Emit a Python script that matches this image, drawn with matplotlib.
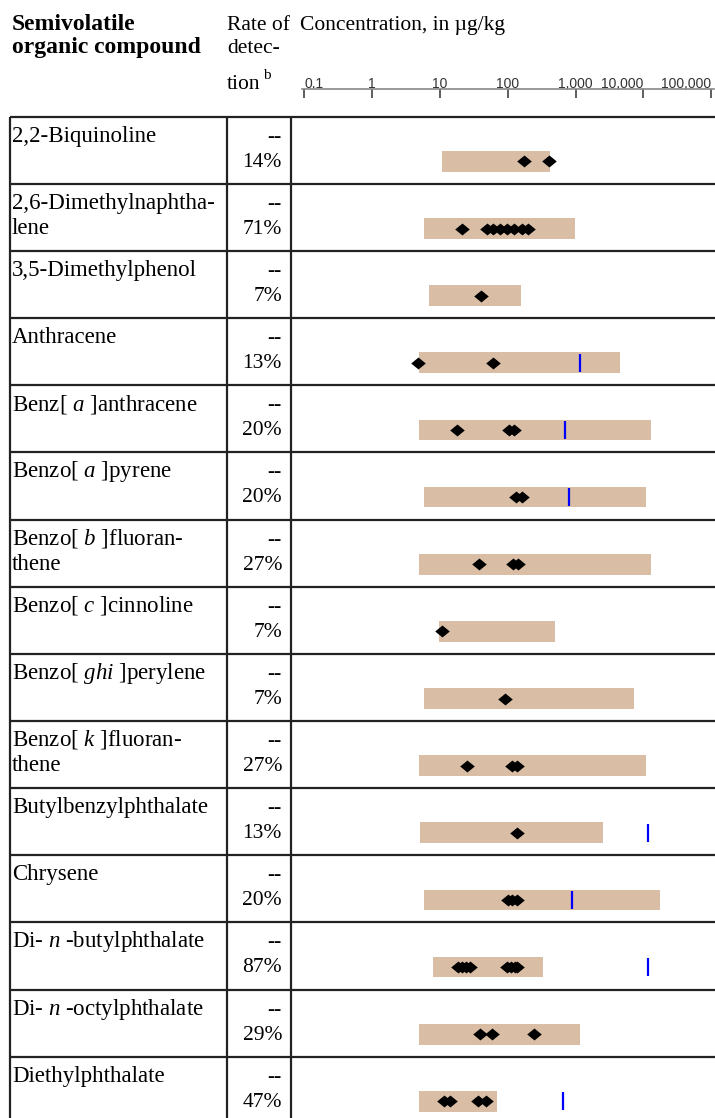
import numpy as np
import matplotlib
matplotlib.use("Agg")
import matplotlib.pyplot as plt
from matplotlib.ticker import NullLocator

plt.rcParams['font.family'] = ['Liberation Serif', 'DejaVu Serif']
plt.rcParams['mathtext.fontset'] = 'custom'
plt.rcParams['mathtext.rm'] = 'Liberation Serif'
plt.rcParams['mathtext.it'] = 'Liberation Serif:italic'

# compound rows (top to bottom)
compounds = ["2,2-Biquinoline", "2,6-Dimethylnaphtha-\nlene", "3,5-Dimethylphenol",
             "Anthracene", "Benz[ $a$ ]anthracene", "Benzo[ $a$ ]pyrene",
             "Benzo[ $b$ ]fluoran-\nthene", "Benzo[ $c$ ]cinnoline", "Benzo[ $ghi$ ]perylene",
             "Benzo[ $k$ ]fluoran-\nthene", "Butylbenzylphthalate", "Chrysene",
             "Di- $n$ -butylphthalate", "Di- $n$ -octylphthalate", "Diethylphthalate"]
detection_rate = [14, 71, 7, 13, 20, 20, 27, 7, 7, 27, 13, 20, 87, 29, 47]

# range of concentrations (ug/kg)
range_low = [10.8, 5.8, 6.9, 4.9, 4.9, 5.8, 4.85, 9.6, 5.8, 4.85, 5.05, 5.8, 7.9, 4.85, 4.85]
range_high = [418, 977, 154, 4460, 13000, 11000, 13000, 500, 7240, 11000, 2500, 17700, 326, 1169, 68.4]

# detected concentrations (ug/kg)
detections = [
    [173, 408],
    [21, 48.6, 60.9, 76.4, 95.9, 123, 160, 200],
    [40.1],
    [4.8, 60.3],
    [17.8, 104, 123],
    [132, 161],
    [37.1, 119, 141],
    [10.8],
    [90.6],
    [24.7, 115, 136],
    [136],
    [100, 115, 136],
    [18.4, 21.0, 24.1, 27.6, 97, 111, 127, 136],
    [38.8, 58.2, 245],
    [11.4, 14.0, 36.2, 47.5],
]

# guideline values (ug/kg), None where no guideline
guideline = [None, None, None, 1157, 689, 789, None, None, None, None, 11500, 882, 11500, None, 650]

tick_values = [0.1, 1, 10, 100, 1000, 10000, 100000]
tick_labels = ["0.1", "1", "10", "100", "1,000", "10,000", "100,000"]

W, H = 715, 1118
table_top = 116.7
row_h = 67.14
col_x = [10, 227, 291]
line_col = '#222222'
bar_col = '#d9bea5'
fs = 15.5
fs_name = 16.5

fig = plt.figure(figsize=(W / 100, H / 100), dpi=100)

# background axes in pixel units for the table frame and text
bg = fig.add_axes([0, 0, 1, 1])
bg.set_xlim(0, W)
bg.set_ylim(H, 0)
bg.axis('off')

# header
bg.text(12, 30, "Semivolatile", fontsize=17, fontweight='bold', va='baseline')
bg.text(12, 53, "organic compound", fontsize=17, fontweight='bold', va='baseline')
bg.text(227, 30, "Rate of", fontsize=fs, va='baseline')
bg.text(227, 53, "detec-", fontsize=fs, va='baseline')
bg.text(227, 89, "tion", fontsize=fs, va='baseline')
bg.text(263, 79, "b", fontsize=11, va='baseline')
bg.text(300, 30, "Concentration, in \u00b5g/kg", fontsize=fs, va='baseline')

n = len(compounds)
for k in range(n + 1):
    y = table_top + row_h * k
    bg.plot([col_x[0], W], [y, y], color=line_col, lw=1.6, solid_capstyle='butt')
for x in col_x:
    bg.plot([x, x], [table_top, H], color=line_col, lw=1.6, solid_capstyle='butt')

for k, (name, rate) in enumerate(zip(compounds, detection_rate)):
    y0 = table_top + row_h * k
    for j, part in enumerate(name.split("\n")):
        bg.text(12, y0 + 25 + 25 * j, part, fontsize=fs_name, va='baseline')
    bg.text(282, y0 + 25, "--", fontsize=fs, va='baseline', ha='right')
    bg.text(282, y0 + 50, f"{rate}%", fontsize=fs, va='baseline', ha='right')

# concentration axes, one unit per row
xlim = (10 ** -1.199, 10 ** 5.055)
ax = fig.add_axes([col_x[2] / W, 0, (W - col_x[2]) / W, (H - table_top) / H])
ax.set_xscale('log')
ax.set_xlim(*xlim)
ax.set_ylim((H - table_top) / row_h, 0)
ax.axis('off')

diamond = [(-1, 0), (0, 0.82), (1, 0), (0, -0.82), (-1, 0)]
yc = np.arange(n) + 0.666
ax.barh(yc, np.array(range_high) - np.array(range_low), left=range_low,
        height=0.308, color=bar_col, zorder=1)
for k in range(n):
    ax.plot(detections[k], [yc[k]] * len(detections[k]), ls='none', marker=diamond,
            ms=10.5, color='black', mew=0, zorder=3)
    if guideline[k] is not None:
        ax.vlines(guideline[k], yc[k] - 0.135, yc[k] + 0.135, color='#0000ff', lw=1.6, zorder=2)

# scale along the header
hax = fig.add_axes([col_x[2] / W, 1 - 100 / H, (W - col_x[2]) / W, 11 / H])
hax.set_xscale('log')
hax.set_xlim(*xlim)
hax.patch.set_visible(False)
for s in ['left', 'right', 'bottom']:
    hax.spines[s].set_visible(False)
hax.spines['top'].set_color('#888888')
hax.spines['top'].set_linewidth(1.2)
hax.spines['top'].set_bounds(0.092, 10 ** 5.04)
hax.set_yticks([])
hax.xaxis.set_ticks_position('top')
hax.xaxis.set_label_position('top')
hax.xaxis.set_minor_locator(NullLocator())
hax.set_xticks(tick_values, tick_labels)
hax.tick_params(axis='x', which='major', direction='in', length=6.5, width=1.1,
                color='#333333', labelsize=10, labelcolor='#333333', pad=-1.5)
for lab in hax.get_xticklabels():
    lab.set_fontfamily('Liberation Sans')
labs = hax.get_xticklabels()
labs[0].set_ha('left')
labs[-2].set_ha('right')
labs[-1].set_ha('right')

fig.savefig("out.png", dpi=100)
